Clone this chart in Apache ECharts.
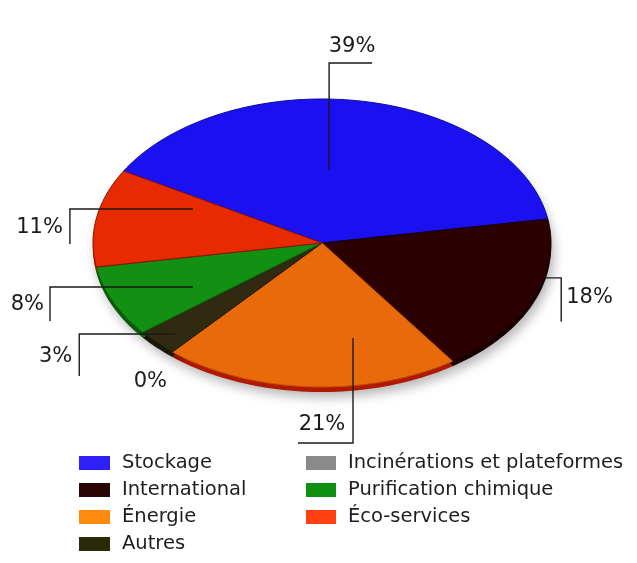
<!DOCTYPE html>
<html><head><meta charset="utf-8">
<script src="https://cdn.jsdelivr.net/npm/echarts@6/dist/echarts.min.js"></script>
<style>html,body{margin:0;padding:0;background:#fff}#c{width:637px;height:563px}</style>
</head><body><div id="c"></div>
<script>
// ---- data ----
const categories = ['Stockage','International','Énergie','Incinérations et plateformes','Autres','Purification chimique','Éco-services'];
const values = [39, 18, 21, 0, 3, 8, 11];
const legendCol1 = ['Stockage','International','Énergie','Autres'];
const legendCol2 = ['Incinérations et plateformes','Purification chimique','Éco-services'];

// ---- styles ----
const topColors    = ['#1a10f0','#2a0000','#e86a0a','#8a8a8a','#302a10','#129012','#e82a00'];
const strokeColors = ['#0c0aa0','#1a0000','#c05000','#666666','#1c1808','#0a600a','#8a1200'];
const rimColors    = ['#0c0890','#180000','#b01800','#555555','#1c1808','#0a5a0a','#9a1400'];
const legendColors = ['#3020f8','#2a0505','#ff8a10','#8a8a8a','#2a2a0a','#109010','#ff4010'];
const CX = 322, CY = 243, RX = 229, RY = 144, DEPTH = 5, START = 150;
const FONT = 'DejaVu Sans';
const labelLayout = [
  {da: 6.7,  r: 0.508, path: [[0,-107],[43,-107]], text: [23,-123], align: 'center'},
  {da: 8.8,  r: 1.0,   path: [[17,0],[17,44]],     text: [22,20],   align: 'left'},
  {da: 14.6, r: 0.673, path: [[0,105],[-55,105]],  text: [-31,87],  align: 'center'},
  {da: 0,    r: 1.0,   path: null,                 text: [-22,30],  align: 'center'},
  {da: 0.8,  r: 0.9,   path: [[-96,0],[-96,42]],   text: [-103,23], align: 'right'},
  {da: 4.5,  r: 0.641, path: [[-143,0],[-143,34]], text: [-149,18], align: 'right'},
  {da: -12.5,r: 0.611, path: [[-123,0],[-123,35]], text: [-130,19], align: 'right'}
];

const total = values.reduce((a, b) => a + b, 0);
let acc = 0;
const sliceData = values.map((v, i) => {
  const a0 = START - acc / total * 360;
  acc += v;
  const a1 = START - acc / total * 360;
  return [a0, a1, v, i];
});

function pt(a, r, dy) {
  const t = a * Math.PI / 180;
  return [CX + RX * r * Math.cos(t), CY + (dy || 0) - RY * r * Math.sin(t)];
}
function sectorPoints(a0, a1, dy) {
  const pts = [[CX, CY + dy]];
  const n = Math.max(2, Math.ceil(Math.abs(a0 - a1) / 1.5));
  for (let k = 0; k <= n; k++) pts.push(pt(a0 + (a1 - a0) * k / n, 1, dy));
  return pts;
}

function renderRim(params, api) {
  const a0 = api.value(0), a1 = api.value(1), i = api.value(3);
  if (Math.abs(a0 - a1) < 1e-6) return null;
  return {type: 'polygon', shape: {points: sectorPoints(a0, a1, DEPTH)},
    style: {fill: rimColors[i], shadowColor: 'rgba(0,0,0,0.30)', shadowBlur: 12, shadowOffsetX: 3, shadowOffsetY: 5}};
}
function renderTop(params, api) {
  const a0 = api.value(0), a1 = api.value(1), i = api.value(3);
  if (Math.abs(a0 - a1) < 1e-6) return null;
  return {type: 'polygon', shape: {points: sectorPoints(a0, a1, 0)},
    style: {fill: topColors[i], stroke: strokeColors[i], lineWidth: 1}};
}
function renderLabel(params, api) {
  const a0 = api.value(0), a1 = api.value(1), v = api.value(2), i = api.value(3);
  const L = labelLayout[i];
  const anchor = pt((a0 + a1) / 2 + L.da, L.r, 0);
  const children = [];
  if (L.path) {
    const pts = [anchor].concat(L.path.map(p => [anchor[0] + p[0], anchor[1] + p[1]]));
    children.push({type: 'polyline', shape: {points: pts}, style: {stroke: '#1a1a1a', lineWidth: 1.4, fill: null}});
  }
  children.push({type: 'text', x: anchor[0] + L.text[0], y: anchor[1] + L.text[1],
    style: {text: v + '%', fontFamily: FONT, fontSize: 21, fill: '#1a1a1a', align: L.align, verticalAlign: 'middle'}});
  return {type: 'group', children: children};
}

const legendBase = {orient: 'vertical', icon: 'rect', itemWidth: 31, itemHeight: 14, itemGap: 7,
  selectedMode: false, top: 453, padding: 0, height: 110,
  textStyle: {fontFamily: FONT, fontSize: 19.5, color: '#1e1e1e', lineHeight: 20, padding: [0, 0, 0, 7]}};

const chart = echarts.init(document.getElementById('c'));
chart.setOption({
  animation: false,
  backgroundColor: '#fff',
  legend: [
    Object.assign({}, legendBase, {left: 79, data: legendCol1}),
    Object.assign({}, legendBase, {left: 306, itemWidth: 30, data: legendCol2})
  ],
  series: [
    {type: 'custom', coordinateSystem: 'none', z: 1, silent: true, renderItem: renderRim, data: sliceData},
    {type: 'custom', coordinateSystem: 'none', z: 2, silent: true, renderItem: renderTop, data: sliceData},
    {type: 'custom', coordinateSystem: 'none', z: 3, silent: true, renderItem: renderLabel, data: sliceData},
    {type: 'pie', radius: [0, 0], center: [-100, -100], silent: true, label: {show: false}, labelLine: {show: false},
      data: categories.map((n, i) => ({name: n, value: values[i], itemStyle: {color: legendColors[i]}}))}
  ]
});
</script></body></html>
